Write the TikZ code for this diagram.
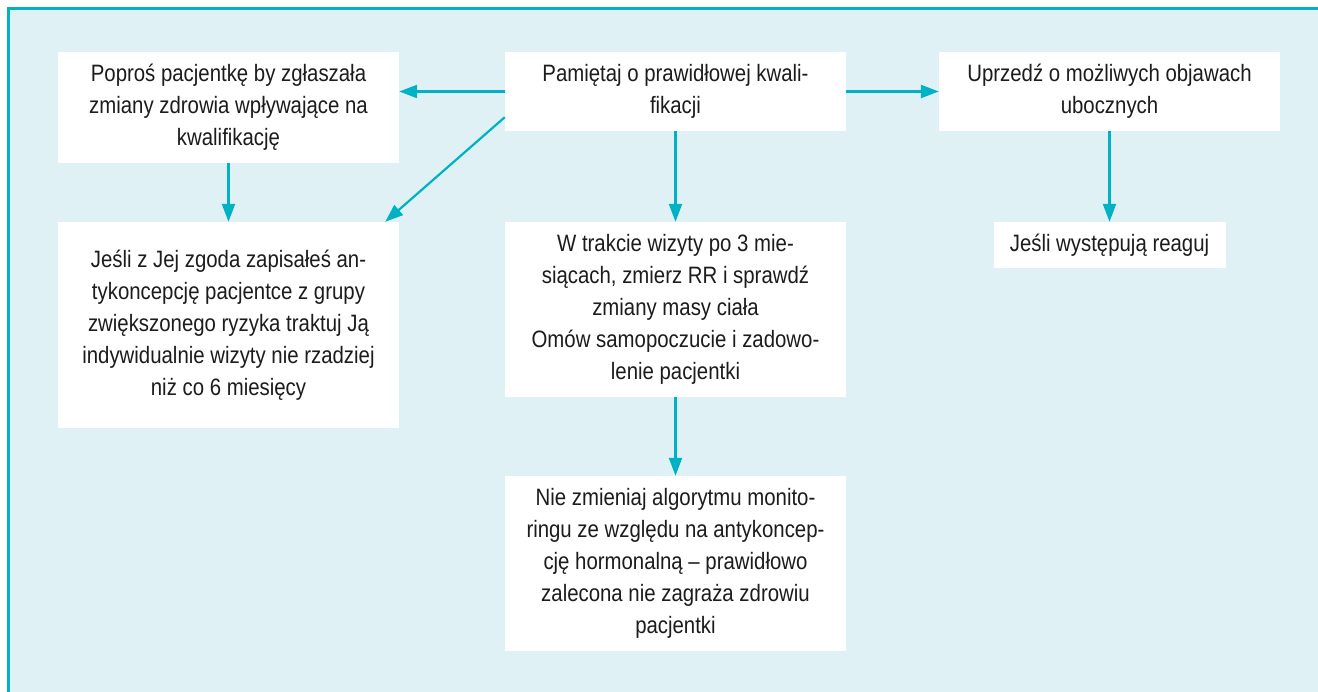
\documentclass[tikz,border=0pt]{standalone}
\usepackage{fontspec}
\setmainfont[FakeStretch=0.86]{Liberation Sans}
\usetikzlibrary{arrows.meta,calc}
\definecolor{lineteal}{HTML}{00B2C4}
\definecolor{panelbg}{HTML}{DFF1F5}
\definecolor{ink}{HTML}{1C1C1C}
\begin{document}
\begin{tikzpicture}[x=1pt,y=-1pt,
  box/.style={fill=white, inner sep=0pt, align=center, text=ink,
    font=\fontsize{23.7}{32}\selectfont},
  link/.style={draw=lineteal, line width=2.2pt,
    -{Triangle[length=18pt,width=13pt]}}]
\useasboundingbox (0,0) rectangle (1318,692);
% panel with its top and left rule
\fill[panelbg] (7,7) rectangle (1318,692);
\draw[lineteal, line width=3pt] (8.5,692) -- (8.5,8.5) -- (1318,8.5);

% boxes
\node[box, minimum width=341pt, minimum height=79pt] (B) at (675.5,91.5)
  {Pamiętaj o prawidłowej kwali-\\fikacji};
\node[box, minimum width=341pt, minimum height=111pt] (A) at (228.5,107.5)
  {Poproś pacjentkę by zgłaszała\\zmiany zdrowia wpływające na\\kwalifikację};
\node[box, minimum width=341pt, minimum height=79pt] (C) at (1109.5,91.5)
  {Uprzedź o możliwych objawach\\ubocznych};
\node[box, minimum width=341pt, minimum height=206pt] (D) at (228.5,325)
  {Jeśli z Jej zgoda zapisałeś an-\\tykoncepcję pacjentce z grupy\\zwiększonego ryzyka traktuj Ją\\indywidualnie wizyty nie rzadziej\\niż co 6 miesięcy};
\node[box, minimum width=341pt, minimum height=175pt] (E) at (675.5,309.5)
  {W trakcie wizyty po 3 mie-\\siącach, zmierz RR i sprawdź\\zmiany masy ciała\\Omów samopoczucie i zadowo-\\lenie pacjentki};
\node[box, minimum width=341pt, minimum height=175pt] (F) at (675.5,563.5)
  {Nie zmieniaj algorytmu monito-\\ringu ze względu na antykoncep-\\cję hormonalną – prawidłowo\\zalecona nie zagraża zdrowiu\\pacjentki};
\node[box, minimum width=232pt, minimum height=46pt] (G) at (1109.5,245)
  {Jeśli występują reaguj};

% connectors
\draw[link] (B.west) -- (B.west -| A.east);
\draw[link] (B.east) -- (B.east -| C.west);
\draw[link] ($(B.south west)+(0,-14)$) -- ($(D.north east)+(-14,0)$);
\draw[link] (A.south) -- (D.north);
\draw[link] (B.south) -- (E.north);
\draw[link] (E.south) -- (F.north);
\draw[link] (C.south) -- (G.north);
\end{tikzpicture}
\end{document}
